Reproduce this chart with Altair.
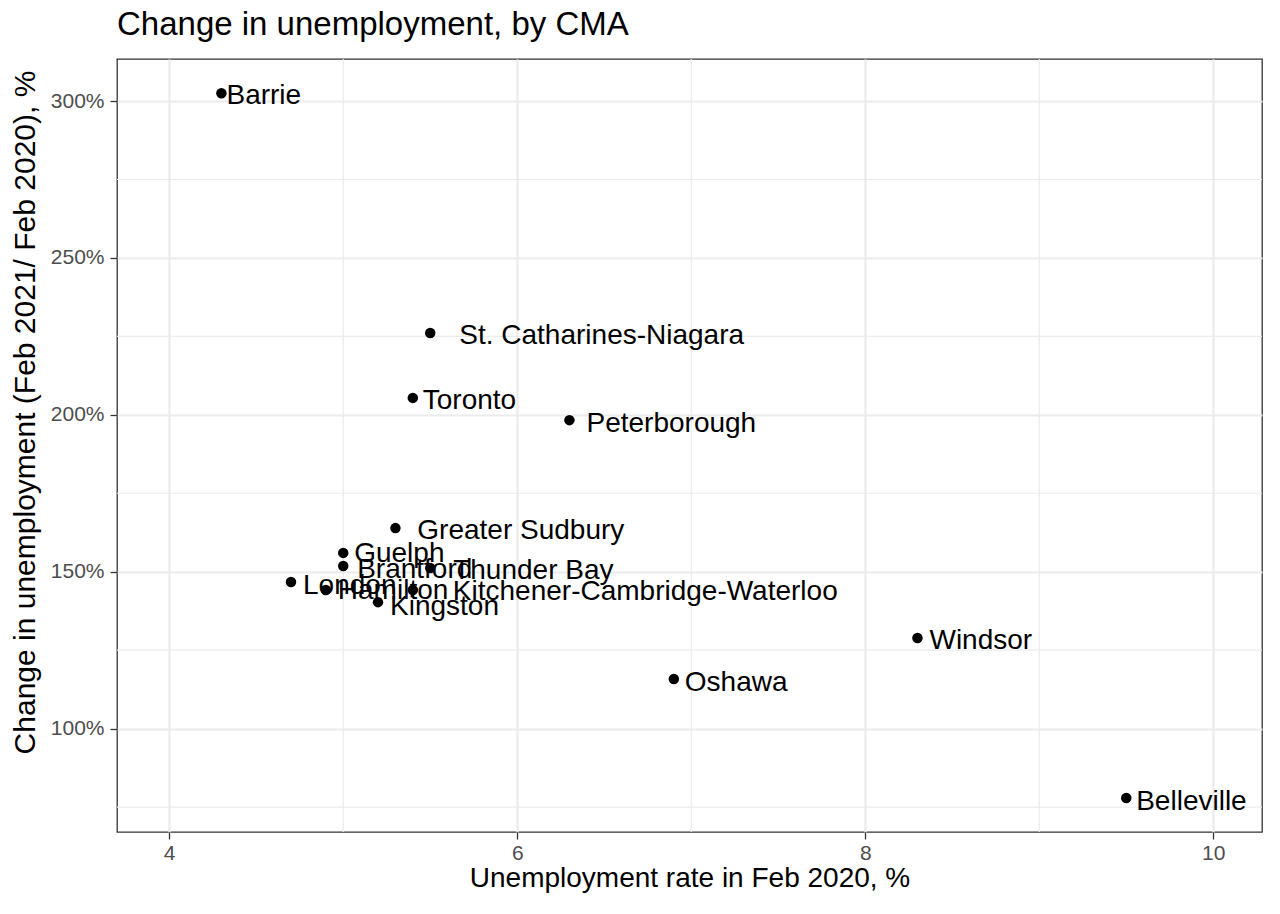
import altair as alt
import pandas as pd

# Census metropolitan areas in Ontario
cities = [
    "Barrie", "St. Catharines-Niagara", "Toronto", "Peterborough",
    "Greater Sudbury", "Guelph", "Brantford", "Thunder Bay", "London",
    "Hamilton", "Kitchener-Cambridge-Waterloo", "Kingston", "Windsor",
    "Oshawa", "Belleville",
]
# Unemployment rate in Feb 2020, %
rate_feb2020 = [4.3, 5.5, 5.4, 6.3, 5.3, 5.0, 5.0, 5.5, 4.7, 4.9, 5.4, 5.2, 8.3, 6.9, 9.5]
# Unemployment Feb 2021 relative to Feb 2020, %
change_pct = [302.5, 226.1, 205.4, 198.3, 163.9, 156.0, 151.8, 151.2, 146.7,
              144.2, 144.2, 140.3, 128.9, 115.8, 77.9]

# Label nudges (x in rate units, y in ratio units), repel-style placement
nudge_x = [0.029, 0.167, 0.057, 0.098, 0.126, 0.063, 0.080, 0.132, 0.069,
           0.069, 0.230, 0.069, 0.069, 0.063, 0.057]
nudge_y = [-0.008, -0.010, -0.011, -0.011, -0.008, -0.002, -0.011, -0.011, -0.014,
           -0.005, -0.008, -0.014, -0.011, -0.014, -0.013]

x_major = [4, 6, 8, 10]
y_major = [1.0, 1.5, 2.0, 2.5, 3.0]
x_domain = [3.70, 10.28]
y_domain = [0.6705, 3.134]

FONT = "Liberation Sans"
X_TITLE = "Unemployment rate in Feb 2020, %"
Y_TITLE = "Change in unemployment (Feb 2021/ Feb 2020), %"

df = pd.DataFrame({
    "city": cities,
    "rate": rate_feb2020,
    "change": [v / 100 for v in change_pct],
})
df["lx"] = df["rate"] + pd.Series(nudge_x)
df["ly"] = df["change"] + pd.Series(nudge_y)


def minor_breaks(major, domain):
    step = major[1] - major[0]
    cands = [v - step / 2 for v in major] + [major[-1] + step / 2]
    return [v for v in cands if domain[0] <= v <= domain[1]]


minor_x = pd.DataFrame({"v": minor_breaks(x_major, x_domain)})
minor_y = pd.DataFrame({"v": minor_breaks(y_major, y_domain)})

x_scale = alt.Scale(domain=x_domain, nice=False, zero=False)
y_scale = alt.Scale(domain=y_domain, nice=False, zero=False)

# One axis definition shared by every layer so the layers merge cleanly
x_axis = alt.Axis(values=x_major, format="d", title=X_TITLE, titleFontSize=28,
                  titleY=54, titleBaseline="alphabetic", labelPadding=3)
y_axis = alt.Axis(values=y_major, format=".0%", title=Y_TITLE, titleFontSize=30,
                  titleX=-83, titleY=353, titleBaseline="alphabetic",
                  titleAlign="center", titleAngle=-90, labelPadding=6)

points = alt.Chart(df).mark_circle(size=110, color="black", opacity=1).encode(
    x=alt.X("rate:Q", scale=x_scale, axis=x_axis),
    y=alt.Y("change:Q", scale=y_scale, axis=y_axis),
)

minor_v = alt.Chart(minor_x).mark_rule(color="#EBEBEB", strokeWidth=1.2).encode(
    x=alt.X("v:Q", scale=x_scale, axis=x_axis)
)
minor_h = alt.Chart(minor_y).mark_rule(color="#EBEBEB", strokeWidth=1.2).encode(
    y=alt.Y("v:Q", scale=y_scale, axis=y_axis)
)

labels = alt.Chart(df).mark_text(
    align="left", baseline="middle", fontSize=28, font=FONT, color="black"
).encode(
    x=alt.X("lx:Q", scale=x_scale, axis=x_axis),
    y=alt.Y("ly:Q", scale=y_scale, axis=y_axis),
    text="city:N",
)

chart = alt.layer(minor_v, minor_h, points, labels).properties(
    width=1145,
    height=773,
    title=alt.TitleParams(
        "Change in unemployment, by CMA", anchor="start", frame="group",
        fontSize=33, font=FONT, color="black", fontWeight="normal", offset=16,
    ),
    autosize=alt.AutoSizeParams(type="none"),
    padding={"left": 117, "top": 59, "right": 18, "bottom": 82},
    background="white",
).configure_view(
    stroke="#333333", strokeWidth=1.3
).configure_axis(
    grid=True, gridColor="#EBEBEB", gridWidth=2.2, domain=False,
    tickColor="#333333", tickWidth=1.3, tickSize=7,
    labelFont=FONT, labelFontSize=21, labelColor="#4D4D4D",
    titleFont=FONT, titleColor="black", titleFontWeight="normal",
)

chart.save("out.html", embed_options={"renderer": "svg", "actions": False})
